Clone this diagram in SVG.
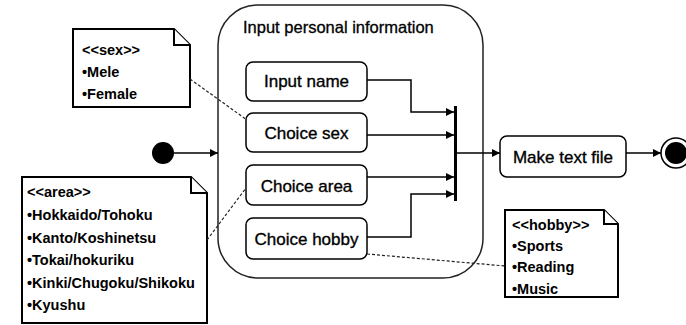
<svg xmlns="http://www.w3.org/2000/svg" width="686" height="325" viewBox="0 0 686 325">
<style>
.box{fill:#fff;stroke:#000;stroke-width:1.5}
.cont{fill:#fff;stroke:#222;stroke-width:1.5}
.note{fill:#fff;stroke:#000;stroke-width:2}
.lbl{font-family:"Liberation Sans",Arial,sans-serif;font-size:17px;fill:#000;stroke:#000;stroke-width:0.35;text-anchor:middle}
.ttl{font-family:"Liberation Sans",Arial,sans-serif;font-size:16.5px;fill:#000;stroke:#000;stroke-width:0.3}
.nt{font-family:"Liberation Sans",Arial,sans-serif;font-size:14.5px;font-weight:bold;fill:#000}
.edge{fill:none;stroke:#000;stroke-width:1.5}
.dash{fill:none;stroke:#222;stroke-width:1.2;stroke-dasharray:3,2}
</style>
<defs>
<marker id="arr" viewBox="0 0 10 10" refX="10" refY="5" markerWidth="8" markerHeight="8" markerUnits="userSpaceOnUse" orient="auto">
<path d="M0,0 L10,5 L0,10 Z" fill="#000"/>
</marker>
</defs>

<g id="container">
<rect class="cont" x="218" y="5" width="265" height="273" rx="40" ry="40"/>
<text class="ttl" x="243" y="33">Input personal information</text>
</g>

<g id="input-name">
<rect class="box" x="246" y="62" width="121" height="39" rx="7"/>
<text class="lbl" x="306.5" y="87">Input name</text>
</g>
<g id="choice-sex">
<rect class="box" x="246" y="113" width="121" height="39" rx="7"/>
<text class="lbl" x="306.5" y="139">Choice sex</text>
</g>
<g id="choice-area">
<rect class="box" x="246" y="165" width="121" height="40" rx="7"/>
<text class="lbl" x="306.5" y="192">Choice area</text>
</g>
<g id="choice-hobby">
<rect class="box" x="246" y="218" width="121" height="41" rx="7"/>
<text class="lbl" x="306.5" y="245">Choice hobby</text>
</g>

<g id="join">
<rect x="454" y="106" width="3" height="95" fill="#000"/>
</g>

<g id="make-text-file">
<rect class="box" x="500" y="136" width="126" height="41" rx="7"/>
<text class="lbl" x="563" y="163">Make text file</text>
</g>

<g id="initial">
<circle cx="163" cy="153" r="11" fill="#000"/>
</g>

<g id="final">
<circle cx="676" cy="153" r="15" fill="#fff" stroke="#000" stroke-width="1.5"/>
<circle cx="676" cy="153" r="11" fill="#000"/>
</g>

<g id="note-sex">
<path class="note" d="M73,29 H174 L190,45 V107 H73 Z"/>
<path class="note" d="M174,29 V45 H190" fill="none"/>
<text class="nt" x="82" y="55">&lt;&lt;sex&gt;&gt;</text>
<text class="nt" x="82" y="77">•Mele</text>
<text class="nt" x="82" y="99">•Female</text>
</g>

<g id="note-area">
<path class="note" d="M22,177 H191 L207,193 V323 H22 Z"/>
<path class="note" d="M191,177 V193 H207" fill="none"/>
<text class="nt" x="27" y="197" font-weight="normal">&lt;&lt;area&gt;&gt;</text>
<text class="nt" x="27" y="220">•Hokkaido/Tohoku</text>
<text class="nt" x="27" y="242.5">•Kanto/Koshinetsu</text>
<text class="nt" x="27" y="265">•Tokai/hokuriku</text>
<text class="nt" x="27" y="287.5">•Kinki/Chugoku/Shikoku</text>
<text class="nt" x="27" y="310">•Kyushu</text>
</g>

<g id="note-hobby">
<path class="note" d="M505,210 H604 L618,224 V297 H505 Z"/>
<path class="note" d="M604,210 V224 H618" fill="none"/>
<text class="nt" x="512" y="230">&lt;&lt;hobby&gt;&gt;</text>
<text class="nt" x="512" y="251">•Sports</text>
<text class="nt" x="512" y="272">•Reading</text>
<text class="nt" x="512" y="294">•Music</text>
</g>

<g id="connectors">
<path class="edge" d="M174,153 H218" marker-end="url(#arr)"/>
<path class="edge" d="M367,80 H411 V112 H454" marker-end="url(#arr)"/>
<path class="edge" d="M367,135 H454" marker-end="url(#arr)"/>
<path class="edge" d="M367,177 H454" marker-end="url(#arr)"/>
<path class="edge" d="M367,237 H411 V194 H454" marker-end="url(#arr)"/>
<path class="edge" d="M457,153 H500" marker-end="url(#arr)"/>
<path class="edge" d="M626,153 H661" marker-end="url(#arr)"/>
<path class="dash" d="M190,79 L247,120"/>
<path class="dash" d="M207,240 L246,188"/>
<path class="dash" d="M367,254 L505,266"/>
</g>
</svg>
